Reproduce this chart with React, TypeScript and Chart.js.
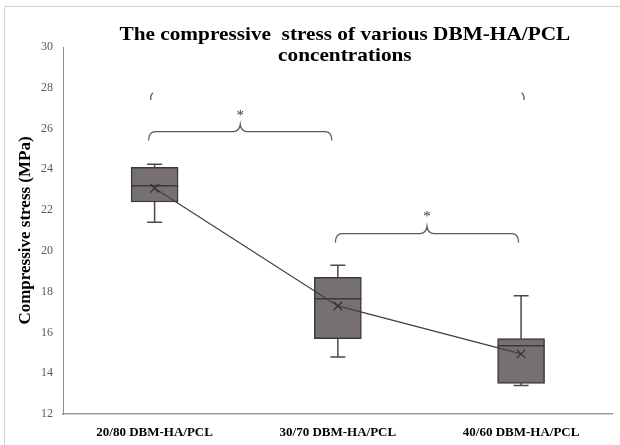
import React, { useEffect, useRef } from "react";
import { Chart, registerables } from "chart.js";

Chart.register(...registerables);

const categories = ["20/80 DBM-HA/PCL", "30/70 DBM-HA/PCL", "40/60 DBM-HA/PCL"];
const whiskerMin = [21.4, 14.8, 13.4];
const q1 = [22.4, 15.7, 13.5];
const median = [23.2, 17.65, 15.35];
const q3 = [24.1, 18.7, 15.7];
const whiskerMax = [24.25, 19.3, 17.8];
const means = [23.07, 17.3, 14.95];
const yMin = 12;
const yMax = 30;
const yStep = 2;
const titleLines = ["The compressive  stress of various DBM-HA/PCL", "concentrations"];
const yTitle = "Compressive stress (MPa)";
const bracketFrom = [0, 1];
const bracketTo = [1, 2];
const bracketY = [25.85, 20.85];
const bracketLabels = ["*", "*"];
const topCurlY = 27.6;

const SERIF = "'Liberation Serif', 'Times New Roman', serif";
const BRACKET_SHIFT = [-6, -2.5];

const boxPlugin = {
  id: "boxExtras",
  beforeDatasetsDraw(chart: any) {
    const { ctx } = chart;
    const xs = chart.scales.x;
    const ys = chart.scales.y;
    ctx.save();
    ctx.strokeStyle = "#4a4a4a";
    ctx.lineWidth = 1.5;
    for (let i = 0; i < categories.length; i++) {
      const x = xs.getPixelForValue(i);
      const yLo = ys.getPixelForValue(whiskerMin[i]);
      const yHi = ys.getPixelForValue(whiskerMax[i]);
      ctx.beginPath();
      ctx.moveTo(x, yLo);
      ctx.lineTo(x, yHi);
      ctx.moveTo(x - 7.5, yLo);
      ctx.lineTo(x + 7.5, yLo);
      ctx.moveTo(x - 7.5, yHi);
      ctx.lineTo(x + 7.5, yHi);
      ctx.stroke();
    }
    ctx.restore();
  },
  afterDatasetDraw(chart: any, args: any) {
    if (args.index !== 0) return;
    const { ctx } = chart;
    const xs = chart.scales.x;
    const ys = chart.scales.y;
    const meta = chart.getDatasetMeta(0);
    ctx.save();
    ctx.strokeStyle = "#3a3a3a";
    ctx.lineWidth = 1.5;
    for (let i = 0; i < categories.length; i++) {
      const el = meta.data[i];
      const half = el.width / 2;
      const x = xs.getPixelForValue(i);
      const y = ys.getPixelForValue(median[i]);
      ctx.beginPath();
      ctx.moveTo(x - half, y);
      ctx.lineTo(x + half, y);
      ctx.stroke();
    }
    ctx.restore();
  },
  afterDraw(chart: any) {
    const { ctx } = chart;
    const xs = chart.scales.x;
    const ys = chart.scales.y;
    ctx.save();
    // frame
    ctx.strokeStyle = "#d4d4d4";
    ctx.lineWidth = 1;
    ctx.beginPath();
    ctx.moveTo(4.5, 445);
    ctx.lineTo(4.5, 6.5);
    ctx.lineTo(620, 6.5);
    ctx.stroke();
    // title (slightly widened like the reference)
    ctx.fillStyle = "#000";
    ctx.font = `bold 19px ${SERIF}`;
    ctx.textAlign = "center";
    ctx.textBaseline = "alphabetic";
    const cx = (chart.chartArea.left + chart.chartArea.right) / 2 + 7;
    const sx = 1.12;
    ctx.save();
    ctx.translate(cx, 0);
    ctx.scale(sx, 1);
    ctx.fillText(titleLines[0], 0, 39.5);
    ctx.fillText(titleLines[1], 0, 60.5);
    ctx.restore();
    // brackets
    ctx.strokeStyle = "#5a5a5a";
    ctx.lineWidth = 1.3;
    for (let b = 0; b < bracketFrom.length; b++) {
      const sh = BRACKET_SHIFT[b] ?? -4;
      const x1 = xs.getPixelForValue(bracketFrom[b]) + sh;
      const x2 = xs.getPixelForValue(bracketTo[b]) + sh;
      const xm = (x1 + x2) / 2;
      const yb = ys.getPixelForValue(bracketY[b]);
      ctx.beginPath();
      ctx.moveTo(x1, yb + 9);
      ctx.quadraticCurveTo(x1, yb, x1 + 7, yb);
      ctx.lineTo(xm - 7, yb);
      ctx.quadraticCurveTo(xm - 1, yb, xm, yb - 7);
      ctx.quadraticCurveTo(xm + 1, yb, xm + 7, yb);
      ctx.lineTo(x2 - 7, yb);
      ctx.quadraticCurveTo(x2, yb, x2, yb + 9);
      ctx.stroke();
      ctx.fillStyle = "#333";
      ctx.font = `15px ${SERIF}`;
      ctx.textBaseline = "middle";
      ctx.fillText(bracketLabels[b], xm, yb - 16);
    }
    // top partial bracket curls
    const yc = ys.getPixelForValue(topCurlY);
    const xl = xs.getPixelForValue(0) - 4;
    const xr = xs.getPixelForValue(2) + 3;
    ctx.beginPath();
    ctx.moveTo(xl, yc + 4);
    ctx.quadraticCurveTo(xl, yc - 2, xl + 2.5, yc - 3);
    ctx.moveTo(xr - 2.5, yc - 3);
    ctx.quadraticCurveTo(xr, yc - 2, xr, yc + 4);
    ctx.stroke();
    ctx.restore();
  },
};

export default function App() {
  const ref = useRef<HTMLCanvasElement | null>(null);
  useEffect(() => {
    if (!ref.current) return;
    const chart = new Chart(ref.current, {
      type: "bar",
      data: {
        labels: categories,
        datasets: [
          {
            type: "bar",
            label: "Box",
            data: q1.map((v, i) => [v, q3[i]]) as any,
            backgroundColor: "#777070",
            borderColor: "#3a3a3a",
            borderWidth: 1.5,
            borderSkipped: false,
            barThickness: 47,
            order: 1,
          },
          {
            type: "line",
            label: "Mean",
            data: means,
            borderColor: "#404040",
            borderWidth: 1.2,
            pointStyle: "crossRot",
            pointRadius: 6,
            pointBorderColor: "#333",
            pointBorderWidth: 1.3,
            pointBackgroundColor: "#333",
            tension: 0,
            fill: false,
            order: 0,
          },
        ],
      },
      options: {
        responsive: false,
        animation: false,
        layout: { padding: { left: 0, top: 47, right: 5, bottom: 0 } },
        plugins: {
          legend: { display: false },
          tooltip: { enabled: false },
          title: { display: false },
        },
        scales: {
          x: {
            grid: { display: false, drawTicks: false },
            border: { display: true, color: "#9a9a9a", width: 1.5 },
            ticks: {
              color: "#000",
              font: { family: SERIF, size: 13, weight: "bold" },
              padding: 11,
              maxRotation: 0,
            },
            afterFit: (s: any) => {
              s.height = 31;
            },
          },
          y: {
            min: yMin,
            max: yMax,
            grid: { display: false, drawTicks: false },
            border: { display: true, color: "#8c8c8c", width: 1 },
            ticks: {
              stepSize: yStep,
              color: "#595959",
              font: { family: SERIF, size: 12 },
              padding: 10,
            },
            title: {
              display: true,
              text: yTitle,
              color: "#000",
              font: { family: SERIF, size: 17, weight: "bold" },
              padding: { top: 15, bottom: 0 },
            },
            afterFit: (s: any) => {
              s.width = 63;
            },
          },
        },
      },
      plugins: [boxPlugin],
    });
    return () => chart.destroy();
  }, []);
  return (
    <div style={{ position: "absolute", left: 0, top: 0, width: 620, height: 445 }}>
      <canvas ref={ref} width={620} height={445} />
    </div>
  );
}
